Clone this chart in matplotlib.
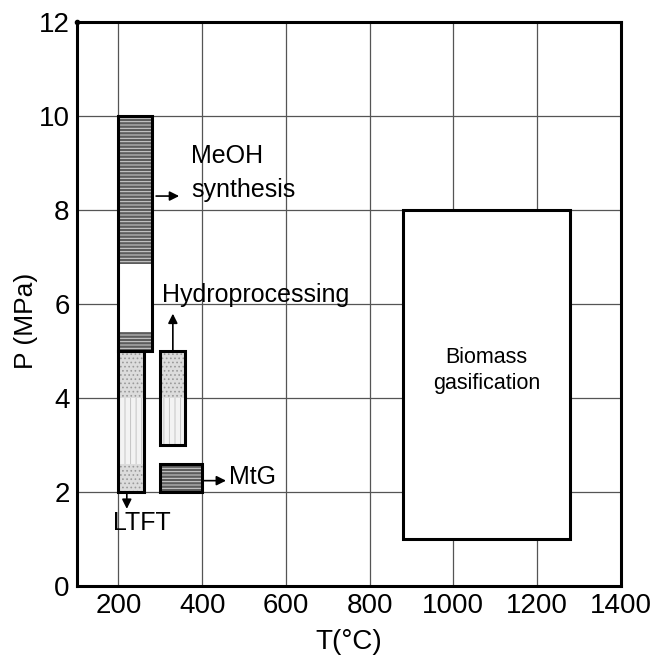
import matplotlib
matplotlib.use("Agg")
import matplotlib.pyplot as plt
from matplotlib.patches import Rectangle
from matplotlib import font_manager

# process windows: name, T range (degC), P range (MPa)
zone_names = ["MeOH synthesis", "LTFT", "Hydroprocessing", "MtG", "Biomass gasification"]
t_low = [200, 200, 300, 300, 880]
t_high = [280, 260, 360, 400, 1280]
p_low = [5.0, 2.0, 3.0, 2.0, 1.0]
p_high = [10.0, 5.0, 5.0, 2.6, 8.0]

# inner bands of each box (zone index, P from, P to, style)
band_zone = [0, 0, 0, 1, 1, 1, 2, 2, 3, 4]
band_from = [6.85, 5.4, 5.0, 4.0, 2.6, 2.0, 4.0, 3.0, 2.0, 1.0]
band_to = [10.0, 6.85, 5.4, 5.0, 4.0, 2.6, 5.0, 4.0, 2.6, 8.0]
band_style = ["stripe", "plain", "stripe", "dots", "lines", "dots", "dots", "lines", "stripe", "plain"]

x_ticks = [200, 400, 600, 800, 1000, 1200, 1400]
y_ticks = [0, 2, 4, 6, 8, 10, 12]

styles = {
    "stripe": dict(facecolor="#5c5c5c", edgecolor="#d4d4d4", hatch="-----"),
    "plain": dict(facecolor="white", edgecolor="white", hatch=None),
    "dots": dict(facecolor="#dcdcdc", edgecolor="#9a9a9a", hatch="...."),
    "lines": dict(facecolor="#f3f3f3", edgecolor="#c4c4c4", hatch="|||"),
}

names = {f.name for f in font_manager.fontManager.ttflist}
has_narrow = "Liberation Sans Narrow" in names
narrow = "Liberation Sans Narrow" if has_narrow else "Liberation Sans"
plt.rcParams["font.family"] = ["Liberation Sans", "DejaVu Sans"]
plt.rcParams["hatch.linewidth"] = 0.7

fig = plt.figure(figsize=(6.54, 6.63), dpi=100)
ax = fig.add_axes([0.1171, 0.1154, 0.8320, 0.8514])

ax.set_xlim(100, 1400)
ax.set_ylim(0, 12)
ax.set_xticks(x_ticks)
ax.set_yticks(y_ticks)
ax.tick_params(length=0, pad=5, labelsize=22 if has_narrow else 20)
for lab in ax.get_xticklabels() + ax.get_yticklabels():
    lab.set_family([narrow, "DejaVu Sans"])

ax.grid(True, color="#555555", linewidth=0.9)
ax.set_axisbelow(True)
for s in ax.spines.values():
    s.set_linewidth(2.2)

# inner bands first
for z, a, b, st in zip(band_zone, band_from, band_to, band_style):
    sty = styles[st]
    ax.add_patch(Rectangle((t_low[z], a), t_high[z] - t_low[z], b - a,
                           facecolor=sty["facecolor"], edgecolor=sty["edgecolor"],
                           hatch=sty["hatch"], linewidth=0, zorder=2))
# borders
for x0, x1, y0, y1 in zip(t_low, t_high, p_low, p_high):
    ax.add_patch(Rectangle((x0, y0), x1 - x0, y1 - y0, fill=False,
                           edgecolor="black", linewidth=2.2, zorder=3))

arrow = dict(arrowstyle="-|>", color="black", lw=1.2, mutation_scale=14,
             shrinkA=0, shrinkB=0)
ax.annotate("", xy=(345, 8.3), xytext=(290, 8.3), arrowprops=arrow, zorder=4)
ax.annotate("", xy=(330, 5.8), xytext=(330, 5.0), arrowprops=arrow, zorder=4)
ax.annotate("", xy=(457, 2.25), xytext=(400, 2.25), arrowprops=arrow, zorder=4)
ax.annotate("", xy=(220, 1.65), xytext=(220, 2.0), arrowprops=arrow, zorder=4)

fs = 18
ax.text(374, 9.0, "MeOH", fontsize=fs, va="baseline", zorder=5)
ax.text(374, 8.28, "synthesis", fontsize=fs, va="baseline", zorder=5)
ax.text(305, 6.05, "Hydroprocessing", fontsize=fs, va="baseline", zorder=5)
ax.text(465, 2.18, "MtG", fontsize=fs, va="baseline", zorder=5)
ax.text(187, 1.2, "LTFT", fontsize=fs, va="baseline", zorder=5)
ax.text((t_low[4] + t_high[4]) / 2, 4.6, "Biomass\ngasification", fontsize=15.5,
        ha="center", va="center", linespacing=1.3, zorder=5)

ax.plot(0, 1, "o", color="black", ms=3, transform=ax.transAxes, clip_on=False)

ax.set_xlabel("T(°C)", fontsize=20, family=[narrow, "DejaVu Sans"], labelpad=7)
ax.set_ylabel("P (MPa)", fontsize=19)
ax.yaxis.set_label_coords(-0.07, 0.47)

fig.savefig("out.png", dpi=100)
